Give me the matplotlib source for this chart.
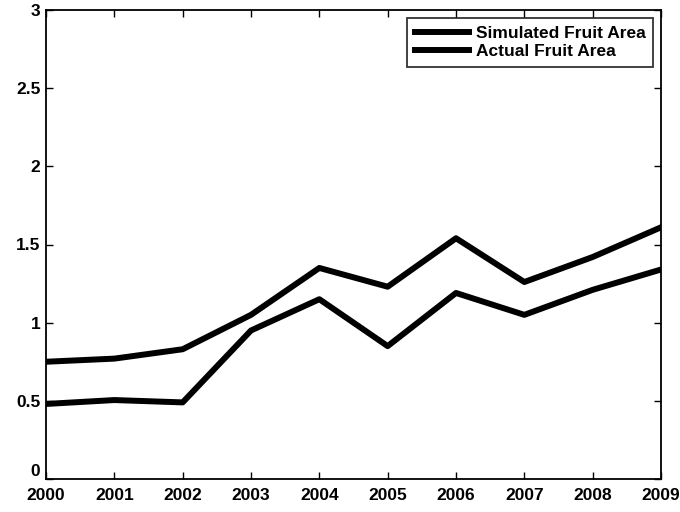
import matplotlib
matplotlib.use("Agg")
import matplotlib.pyplot as plt

# ── Data ────────────────────────────────────────────────────────
years = [2000, 2001, 2002, 2003, 2004, 2005, 2006, 2007, 2008, 2009]
simulated = [0.75, 0.77, 0.83, 1.05, 1.35, 1.23, 1.54, 1.26, 1.42, 1.61]
actual = [0.48, 0.505, 0.49, 0.95, 1.15, 0.85, 1.19, 1.05, 1.21, 1.34]
ytick_vals = [0, 0.5, 1, 1.5, 2, 2.5, 3]
ytick_labels = ["0", "0.5", "1", "1.5", "2", "2.5", "3"]

plt.rcParams["font.family"] = ["Liberation Sans", "DejaVu Sans"]
plt.rcParams["font.weight"] = "bold"

fig = plt.figure(figsize=(6.8, 5.12), dpi=100)
# axes frame: x 46..661 px, y 10..479 px
ax = fig.add_axes([46 / 680, 33 / 512, 615 / 680, 469 / 512])

ax.plot(years, simulated, color="black", linewidth=4.3, label="Simulated Fruit Area")
ax.plot(years, actual, color="black", linewidth=4.3, label="Actual Fruit Area")

ax.set_xlim(2000, 2009)
ax.set_ylim(0, 3)
ax.set_xticks(years)
ax.set_yticks(ytick_vals)
ax.set_yticklabels(ytick_labels)
ax.tick_params(direction="in", top=True, right=True, labelsize=12.5,
               length=5, width=1)
ax.tick_params(axis="x", pad=6.5)
ax.tick_params(axis="y", pad=4)
for spine in ax.spines.values():
    spine.set_linewidth(1.3)

# the "0" label sits a little above the x axis, as in the MATLAB original
ax.get_yticklabels()[0].set_verticalalignment("bottom")

leg = ax.legend(loc="upper right", fontsize=12.5, frameon=True, fancybox=False,
                edgecolor="black", handlelength=3.1, borderaxespad=0.45,
                labelspacing=0.2, handletextpad=0.4, borderpad=0.45)
leg.get_frame().set_linewidth(1.3)

fig.savefig("out.png", dpi=100, facecolor="white")
